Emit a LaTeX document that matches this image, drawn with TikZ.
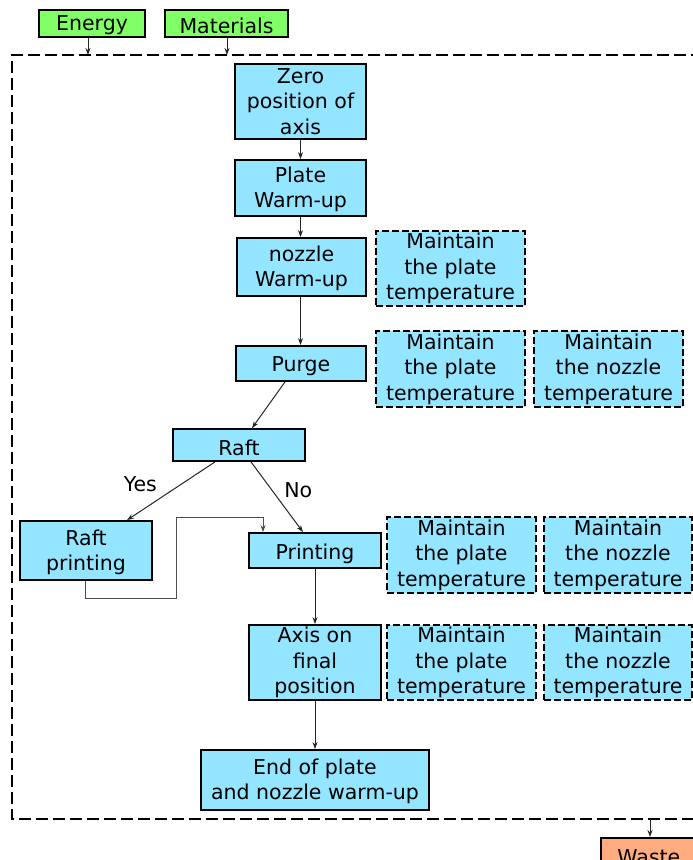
\documentclass[tikz,border=0pt]{standalone}
\usepackage{fontspec}
\setmainfont{DejaVu Sans}
\usetikzlibrary{arrows.meta,calc,positioning}
\definecolor{boxblue}{RGB}{148,229,255}
\definecolor{boxgreen}{RGB}{128,255,102}
\definecolor{boxsalmon}{RGB}{255,172,128}
\newcommand\lowtxt[2][2.5pt]{\raisebox{-#1}[\height][\depth]{#2}}
\begin{document}
\begin{tikzpicture}[x=1pt,y=-1pt,
  every node/.style={font=\fontsize{20.5}{25.5}\selectfont, align=center, inner sep=0pt},
  proc/.style={draw=black, line width=1.8pt, fill=boxblue, rectangle},
  keep/.style={draw=black, line width=1.8pt, fill=boxblue, rectangle, dash pattern=on 7pt off 3pt},
  iobox/.style={draw=black, line width=1.8pt, fill=boxgreen, rectangle},
  outbox/.style={draw=black, line width=1.8pt, fill=boxsalmon, rectangle},
  conn/.style={draw=black!85, line width=1pt, -{Stealth[length=7pt,width=5pt]}},
  lbl/.style={font=\fontsize{20.5}{25.5}\selectfont}
]
\useasboundingbox (0,0) rectangle (693,860);
% system boundary
\draw[line width=1.8pt, dash pattern=on 12pt off 5pt] (720,55) -- (12,55) -- (12,819) -- (720,819);
% inputs
\node[iobox, minimum width=106pt, minimum height=27pt] (energy) at (92,23.5) {\lowtxt[2pt]{Energy}};
\node[iobox, minimum width=123pt, minimum height=27pt] (materials) at (226.5,23.5) {\lowtxt[2pt]{Materials}};
\coordinate (eIn) at (88,55);
\coordinate (mIn) at (227,55);
\draw[conn] (energy.south -| eIn) -- (eIn);
\draw[conn] (materials.south -| mIn) -- (mIn);
% process
\node[proc, minimum width=131pt, minimum height=75pt] (zero) at (300.5,101.5) {Zero\\position of\\axis};
\node[proc, minimum width=131pt, minimum height=56pt] (plate) at (300.5,188) {\lowtxt[1.5pt]{Plate}\\\lowtxt[1.5pt]{Warm-up}};
\node[proc, minimum width=129pt, minimum height=58pt] (nozzle) at (301.5,267) {\lowtxt[1.5pt]{nozzle}\\\lowtxt[1.5pt]{Warm-up}};
\node[keep, minimum width=149pt, minimum height=75pt] (m1) at (450.5,268.5) {Maintain\\the plate\\temperature};
\node[proc, minimum width=130pt, minimum height=35pt] (purge) at (301,363.5) {\lowtxt[3pt]{Purge}};
\node[keep, minimum width=149pt, minimum height=76pt] (m2) at (450.5,369) {Maintain\\the plate\\temperature};
\node[keep, minimum width=149pt, minimum height=76pt] (m3) at (608.5,369) {Maintain\\the nozzle\\temperature};
\node[proc, minimum width=132pt, minimum height=32pt] (raft) at (239,445) {\lowtxt[2.5pt]{Raft}};
\node[proc, minimum width=132pt, minimum height=59pt] (raftp) at (86,550.5) {\lowtxt[2pt]{Raft}\\\lowtxt[2pt]{printing}};
\node[proc, minimum width=132pt, minimum height=35pt] (printing) at (315,550.5) {\lowtxt[3pt]{Printing}};
\node[keep, minimum width=149pt, minimum height=76pt] (m4) at (461.5,555) {Maintain\\the plate\\temperature};
\node[keep, minimum width=148pt, minimum height=76pt] (m5) at (618,555) {Maintain\\the nozzle\\temperature};
\node[proc, minimum width=132pt, minimum height=75pt] (axis) at (315,662.5) {Axis on\\final\\position};
\node[keep, minimum width=149pt, minimum height=75pt] (m6) at (461.5,662.5) {Maintain\\the plate\\temperature};
\node[keep, minimum width=148pt, minimum height=75pt] (m7) at (618,662.5) {Maintain\\the nozzle\\temperature};
\node[proc, minimum width=228pt, minimum height=60pt] (end) at (315,780) {\lowtxt[1.5pt]{End of plate}\\\lowtxt[1.5pt]{and nozzle warm-up}};
% output
\node[outbox, minimum width=104pt, minimum height=46pt, anchor=north west] (waste) at (600,837) {\raisebox{8pt}{Waste}\hspace*{8pt}};
\coordinate (wOut) at (650,819);
\draw[conn] (wOut) -- (wOut |- waste.north);
% connectors
\draw[conn] (zero) -- (plate);
\draw[conn] (plate) -- (nozzle.north -| plate);
\draw[conn] (nozzle.south -| plate) -- (purge.north -| plate);
\draw[conn] ([xshift=-16pt]purge.south) -- ([xshift=13pt]raft.north);
\draw[conn] ([xshift=-24pt]raft.south) -- node[lbl, pos=0.45, above left=-4pt and 18pt] (yes) {Yes} ([xshift=41pt]raftp.north);
\draw[conn] ([xshift=12pt]raft.south) -- node[lbl, pos=0.4, right=12pt] (no) {No} ([xshift=-12pt]printing.north);
\draw[conn, draw=black!70] ([xshift=-1pt]raftp.south) -- ++(0,18) -- ++(91,0) -- ++(0,-81) -| ([xshift=-52pt]printing.north);
\draw[conn] (printing) -- (axis);
\draw[conn] (axis) -- (end);
\end{tikzpicture}
\end{document}
